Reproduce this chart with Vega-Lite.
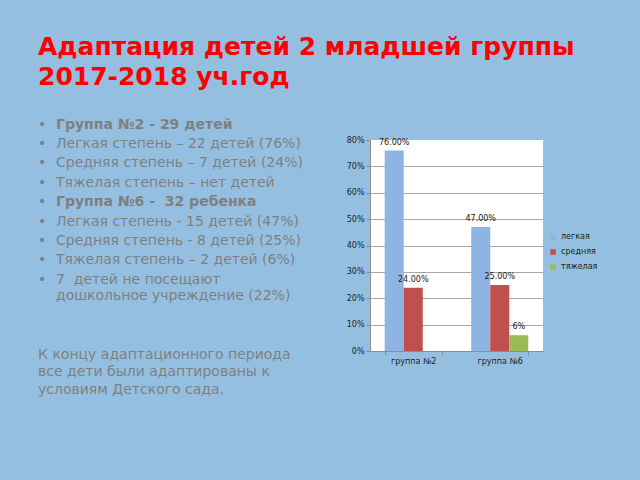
{
  "$schema": "https://vega.github.io/schema/vega-lite/v6.json",
  "background": "#95bfe0",
  "padding": {"left": 38, "top": 34, "right": 44, "bottom": 83},
  "title": {
    "text": ["Адаптация детей 2 младшей группы", "2017-2018 уч.год"],
    "anchor": "start",
    "font": "DejaVu Sans",
    "fontSize": 25,
    "fontWeight": "bold",
    "color": "#ff0000",
    "lineHeight": 30,
    "offset": 28
  },
  "bounds": "flush",
  "spacing": 42,
  "hconcat": [
    {
      "width": 290,
      "height": {"step": 19.4},
      "data": {
        "values": [
          {"row": 1, "kind": "group", "text": "Группа №2 - 29 детей"},
          {"row": 2, "kind": "item", "text": "Легкая степень – 22 детей (76%)"},
          {"row": 3, "kind": "item", "text": "Средняя степень – 7 детей (24%)"},
          {"row": 4, "kind": "item", "text": "Тяжелая степень – нет детей"},
          {"row": 5, "kind": "group", "text": "Группа №6 - \u00a032 ребенка"},
          {"row": 6, "kind": "item", "text": "Легкая степень - 15 детей (47%)"},
          {"row": 7, "kind": "item", "text": "Средняя степень - 8 детей (25%)"},
          {"row": 8, "kind": "item", "text": "Тяжелая степень – 2 детей (6%)"},
          {"row": 9, "kind": "item", "text": "7 \u00a0детей не посещают\nдошкольное учреждение (22%)"},
          {"row": 13, "kind": "para", "text": "К концу адаптационного периода\nвсе дети были адаптированы к\nусловиям Детского сада."}
        ]
      },
      "encoding": {
        "y": {
          "field": "row",
          "type": "ordinal",
          "scale": {"type": "point", "padding": 0, "domain": [1, 2, 3, 4, 5, 6, 7, 8, 9, 10, 11, 12, 13]},
          "axis": null
        }
      },
      "layer": [
        {
          "transform": [{"filter": "datum.kind != 'para'"}],
          "mark": {"type": "text", "text": "•", "align": "left", "baseline": "alphabetic", "dy": -11.5, "fontSize": 14, "color": "#7f7f7f"},
          "encoding": {"x": {"value": 0}}
        },
        {
          "transform": [{"filter": "datum.kind == 'group'"}],
          "mark": {"type": "text", "align": "left", "baseline": "alphabetic", "dx": 18, "dy": -11.5, "fontSize": 14, "fontWeight": "bold", "color": "#7f7f7f"},
          "encoding": {"x": {"value": 0}, "text": {"field": "text"}}
        },
        {
          "transform": [{"filter": "datum.kind == 'item'"}],
          "mark": {"type": "text", "align": "left", "baseline": "alphabetic", "dx": 18, "dy": -11.5, "fontSize": 14, "color": "#7f7f7f", "lineBreak": "\n", "lineHeight": 16.7},
          "encoding": {"x": {"value": 0}, "text": {"field": "text"}}
        },
        {
          "transform": [{"filter": "datum.kind == 'para'"}],
          "mark": {"type": "text", "align": "left", "baseline": "alphabetic", "dy": -14.3, "fontSize": 14, "color": "#7f7f7f", "lineBreak": "\n", "lineHeight": 17.7},
          "encoding": {"x": {"value": 0}, "text": {"field": "text"}}
        }
      ]
    },
    {
      "width": 173,
      "height": 211,
      "view": {"fill": "#ffffff", "stroke": null},
      "data": {
        "values": [
          {"group": "группа №2", "degree": "легкая", "value": 0.76, "label": "76.00%"},
          {"group": "группа №2", "degree": "средняя", "value": 0.24, "label": "24.00%"},
          {"group": "группа №6", "degree": "легкая", "value": 0.47, "label": "47.00%"},
          {"group": "группа №6", "degree": "средняя", "value": 0.25, "label": "25.00%"},
          {"group": "группа №6", "degree": "тяжелая", "value": 0.06, "label": "6%"}
        ]
      },
      "encoding": {
        "x": {
          "field": "group",
          "type": "nominal",
          "title": null,
          "scale": {"paddingInner": 0.34, "paddingOuter": 0.17},
          "axis": {"labelAngle": 0, "tickBand": "extent", "domainColor": "#8c8c8c", "tickColor": "#8c8c8c", "tickSize": 4, "labelFontSize": 8, "labelColor": "#222222", "grid": false}
        },
        "xOffset": {
          "field": "degree",
          "type": "nominal",
          "scale": {"domain": ["легкая", "средняя", "тяжелая"], "paddingInner": 0, "paddingOuter": 0}
        },
        "y": {
          "field": "value",
          "type": "quantitative",
          "title": null,
          "scale": {"domain": [0, 0.8], "nice": false},
          "axis": {
            "values": [0, 0.1, 0.2, 0.3, 0.4, 0.5, 0.6, 0.7, 0.8],
            "format": ".0%",
            "labelFontSize": 8,
            "labelColor": "#222222",
            "tickSize": 4,
            "tickColor": "#8c8c8c",
            "domainColor": "#8c8c8c",
            "gridColor": {"condition": {"test": "datum.value >= 0.79", "value": "#ffffff"}, "value": "#a6a6a6"}
          }
        }
      },
      "layer": [
        {
          "mark": {"type": "bar"},
          "encoding": {
            "color": {
              "field": "degree",
              "type": "nominal",
              "scale": {"domain": ["легкая", "средняя", "тяжелая"], "range": ["#8db4e2", "#c0504d", "#9bbb59"]},
              "legend": {
                "title": null,
                "orient": "none",
                "legendX": 511,
                "legendY": 90,
                "symbolType": "square",
                "symbolSize": 30,
                "symbolStrokeWidth": 0,
                "labelFontSize": 8,
                "labelColor": "#222222",
                "clipHeight": 14.2,
                "rowPadding": 0,
                "padding": 0
              }
            }
          }
        },
        {
          "mark": {"type": "text", "baseline": "bottom", "dy": -4, "fontSize": 8, "color": "#1a1a1a"},
          "encoding": {"text": {"field": "label"}}
        }
      ]
    }
  ],
  "config": {
    "font": "DejaVu Sans",
    "view": {"stroke": null}
  }
}
